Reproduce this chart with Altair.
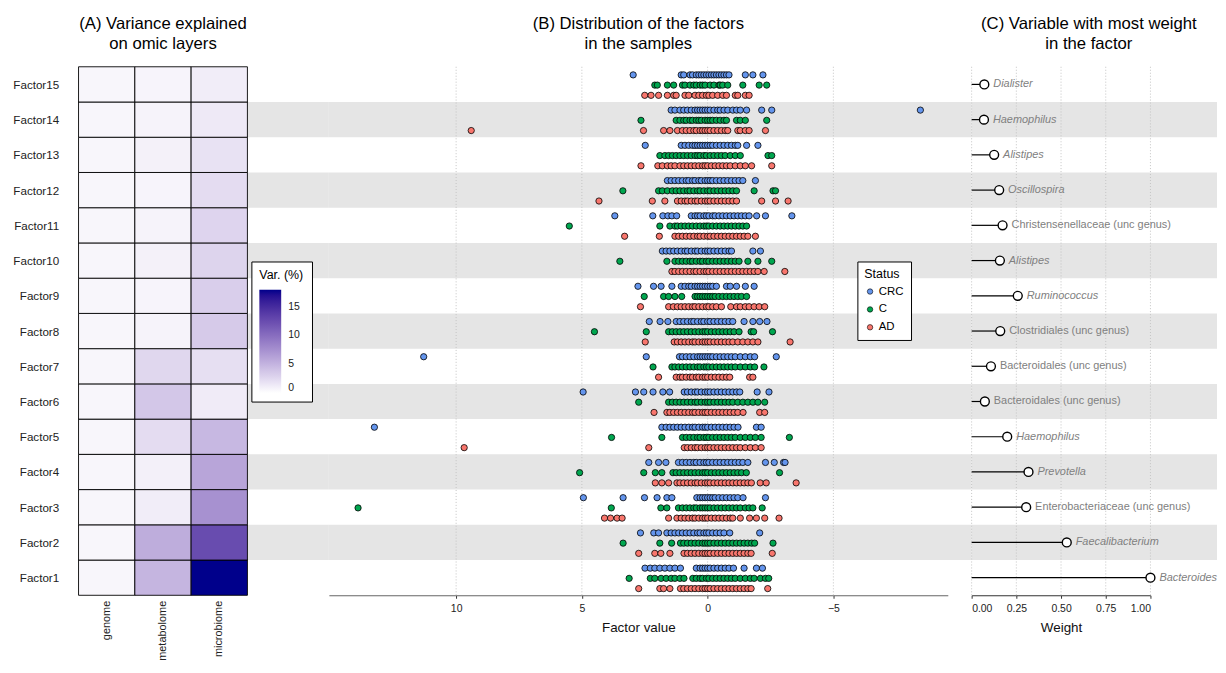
import json
import altair as alt
import pandas as pd

# ---------------- data ----------------
factor_names = ["Factor1", "Factor2", "Factor3", "Factor4", "Factor5", "Factor6", "Factor7",
                "Factor8", "Factor9", "Factor10", "Factor11", "Factor12", "Factor13",
                "Factor14", "Factor15"]
factor_order = factor_names[::-1]          # Factor15 at the top
layers = ["genome", "metabolome", "microbiome"]

var_genome = [0.6, 0.6, 0.6, 0.6, 0.6, 0.6, 0.6, 0.6, 0.6, 0.6, 0.6, 0.6, 0.6, 0.6, 0.6]
var_metabolome = [4.9, 5.5, 1.2, 1.0, 2.3, 3.7, 2.65, 0.8, 0.7, 0.9, 0.8, 0.7, 0.9, 0.8, 0.7]
var_microbiome = [17.9, 12.5, 7.4, 6.0, 4.7, 1.3, 2.1, 3.5, 3.2, 2.85, 2.8, 2.3, 1.9, 1.45, 1.2]

statuses = ["CRC", "C", "AD"]
status_colors = ["#6495ed", "#00a64f", "#f8766d"]

crc_values = [
    [2.49, 2.28, 2.1, 1.9, 1.7, 1.5, 1.3, 1.08, 0.45, 0.3, 0.2, 0.1, 0.0, -0.1, -0.25, -0.4, -0.55, -0.7, -0.85, -1.03, -1.45, -1.94, -2.18],
    [2.67, 2.14, 1.95, 1.62, 1.45, 1.3, 1.15, 1.0, 0.85, 0.7, 0.55, 0.4, 0.3, 0.15, 0.05, -0.05, -0.2, -0.35, -0.5, -0.65, -0.88, -2.07],
    [4.94, 3.36, 2.51, 2.01, 1.62, 1.42, 0.43, 0.3, 0.2, 0.1, 0.0, -0.1, -0.2, -0.3, -0.45, -0.6, -0.75, -0.9, -1.05, -1.2, -1.41, -2.3],
    [2.34, 1.95, 1.66, 1.16, 1.0, 0.85, 0.7, 0.55, 0.45, 0.3, 0.15, 0.05, -0.05, -0.2, -0.35, -0.5, -0.65, -0.8, -0.95, -1.1, -1.25, -1.4, -1.6, -2.3, -2.65, -3.02, -3.08],
    [13.25, 1.82, 1.65, 1.5, 1.35, 1.2, 1.05, 0.9, 0.75, 0.6, 0.5, 0.35, 0.2, 0.1, 0.0, -0.15, -0.3, -0.45, -0.6, -0.75, -0.9, -1.05, -1.21, -1.94, -2.13],
    [4.95, 2.87, 2.54, 2.17, 1.78, 1.51, 0.93, 0.8, 0.65, 0.5, 0.4, 0.25, 0.1, 0.0, -0.1, -0.25, -0.4, -0.55, -0.7, -0.85, -1.0, -1.15, -1.28, -1.97, -2.44],
    [11.29, 2.44, 1.12, 1.0, 0.85, 0.7, 0.55, 0.4, 0.3, 0.2, 0.1, 0.0, -0.1, -0.2, -0.35, -0.5, -0.65, -0.8, -0.95, -1.1, -1.3, -1.5, -1.7, -1.87, -2.73],
    [2.32, 1.89, 1.58, 1.25, 1.1, 0.95, 0.8, 0.65, 0.55, 0.4, 0.25, 0.15, 0.0, -0.1, -0.25, -0.4, -0.55, -0.7, -0.85, -1.0, -1.45, -1.8, -2.07, -2.36],
    [2.77, 2.15, 1.85, 1.42, 1.05, 0.9, 0.75, 0.65, 0.5, 0.4, 0.3, 0.2, 0.1, 0.0, -0.1, -0.2, -0.35, -0.75, -0.9, -1.15, -1.5, -1.85],
    [1.8, 1.65, 1.5, 1.35, 1.2, 1.05, 0.9, 0.8, 0.65, 0.5, 0.4, 0.25, 0.1, 0.0, -0.1, -0.25, -0.4, -0.55, -0.7, -0.85, -0.95, -1.8, -2.1],
    [3.69, 2.18, 1.78, 1.58, 1.42, 1.23, 0.65, 0.5, 0.4, 0.3, 0.15, 0.05, -0.05, -0.2, -0.3, -0.45, -0.6, -0.75, -0.9, -1.05, -1.2, -1.35, -1.5, -1.65, -1.95, -2.3, -3.35],
    [1.6, 1.45, 1.3, 1.15, 1.0, 0.85, 0.75, 0.6, 0.5, 0.35, 0.25, 0.1, 0.0, -0.1, -0.2, -0.35, -0.5, -0.65, -0.8, -0.95, -1.1, -1.25, -1.4, -1.9],
    [2.48, 1.05, 0.9, 0.75, 0.6, 0.5, 0.4, 0.3, 0.2, 0.1, 0.0, -0.1, -0.2, -0.35, -0.5, -0.65, -0.8, -0.95, -1.1, -1.2, -1.55, -2.0],
    [1.45, 1.3, 1.1, 0.95, 0.8, 0.65, 0.5, 0.4, 0.3, 0.2, 0.1, 0.0, -0.1, -0.25, -0.4, -0.5, -0.65, -0.8, -1.0, -1.15, -1.3, -1.55, -2.15, -2.55, -8.46],
    [2.96, 1.05, 0.95, 0.7, 0.6, 0.45, 0.35, 0.25, 0.15, 0.05, -0.05, -0.15, -0.25, -0.35, -0.45, -0.55, -0.65, -0.75, -0.85, -1.5, -1.8, -2.2],
]

c_values = [
    [3.12, 2.28, 2.1, 1.85, 1.65, 1.45, 1.3, 1.1, 0.94, 0.59, 0.45, 0.3, 0.2, 0.05, -0.05, -0.2, -0.35, -0.5, -0.65, -0.8, -0.95, -1.1, -1.3, -1.5, -1.7, -1.85, -2.1, -2.3, -2.43],
    [3.36, 1.9, 1.43, 1.08, 0.95, 0.8, 0.65, 0.5, 0.35, 0.2, 0.1, 0.0, -0.1, -0.25, -0.4, -0.55, -0.7, -0.85, -1.0, -1.15, -1.3, -1.45, -1.6, -1.75, -1.87, -2.6],
    [13.9, 3.83, 1.86, 1.62, 1.16, 1.0, 0.85, 0.7, 0.55, 0.45, 0.3, 0.2, 0.1, 0.0, -0.1, -0.25, -0.4, -0.55, -0.7, -0.85, -1.0, -1.15, -1.3, -1.5, -1.65, -1.8, -2.17],
    [5.09, 2.54, 2.08, 1.82, 1.38, 1.25, 1.1, 0.95, 0.8, 0.65, 0.5, 0.35, 0.2, 0.1, 0.0, -0.15, -0.3, -0.45, -0.6, -0.75, -0.9, -1.05, -1.2, -1.35, -1.54, -2.86],
    [3.82, 1.82, 1.0, 0.85, 0.7, 0.55, 0.4, 0.3, 0.15, 0.05, -0.05, -0.2, -0.35, -0.5, -0.65, -0.8, -0.95, -1.1, -1.3, -1.5, -1.7, -1.9, -2.13, -3.25],
    [2.74, 1.55, 1.4, 1.25, 1.1, 0.95, 0.8, 0.65, 0.5, 0.4, 0.25, 0.1, 0.0, -0.1, -0.25, -0.4, -0.55, -0.7, -0.85, -1.0, -1.2, -1.4, -1.6, -1.8, -2.0, -2.27],
    [2.17, 1.42, 1.3, 1.15, 1.0, 0.85, 0.7, 0.55, 0.4, 0.3, 0.15, 0.05, -0.05, -0.2, -0.35, -0.5, -0.65, -0.8, -0.95, -1.1, -1.3, -1.5, -1.7, -1.87, -2.24],
    [4.5, 2.44, 1.55, 1.4, 1.25, 1.1, 0.95, 0.8, 0.65, 0.5, 0.35, 0.2, 0.1, 0.0, -0.15, -0.3, -0.45, -0.6, -0.75, -0.9, -1.05, -1.25, -1.73, -1.83, -2.58],
    [2.52, 1.75, 1.55, 1.3, 1.03, 0.5, 0.4, 0.3, 0.2, 0.1, 0.0, -0.1, -0.2, -0.3, -0.45, -0.6, -0.75, -0.9, -1.05, -1.2, -1.35, -1.55],
    [3.49, 1.62, 1.3, 1.15, 1.0, 0.85, 0.7, 0.6, 0.45, 0.3, 0.2, 0.05, -0.05, -0.2, -0.35, -0.5, -0.65, -0.8, -0.95, -1.1, -1.25, -1.6, -2.0, -2.55],
    [5.5, 1.9, 1.5, 1.3, 1.2, 1.05, 0.9, 0.75, 0.6, 0.45, 0.3, 0.15, 0.05, -0.05, -0.2, -0.35, -0.5, -0.65, -0.8, -0.95, -1.1, -1.25, -1.4, -1.55],
    [3.37, 1.95, 1.8, 1.6, 1.4, 1.25, 1.1, 0.95, 0.8, 0.7, 0.55, 0.4, 0.3, 0.15, 0.0, -0.1, -0.25, -0.4, -0.55, -0.7, -0.85, -1.0, -1.15, -1.85, -2.6, -2.7],
    [1.9, 1.7, 1.55, 1.4, 1.25, 1.1, 0.95, 0.8, 0.65, 0.5, 0.4, 0.3, 0.15, 0.05, -0.1, -0.25, -0.4, -0.55, -0.7, -0.9, -1.1, -1.3, -2.4, -2.55],
    [2.65, 1.25, 1.1, 0.95, 0.85, 0.7, 0.6, 0.45, 0.35, 0.25, 0.1, 0.0, -0.1, -0.2, -0.35, -0.5, -0.65, -0.75, -1.15, -1.3, -1.5, -2.35],
    [2.1, 2.0, 1.6, 1.35, 1.0, 0.9, 0.7, 0.55, 0.45, 0.3, 0.2, 0.1, -0.1, -0.25, -0.45, -0.5, -0.6, -0.8, -1.4, -2.05, -2.35],
]

ad_values = [
    [2.74, 1.9, 1.75, 1.5, 1.08, 0.95, 0.8, 0.65, 0.5, 0.35, 0.2, 0.1, 0.0, -0.1, -0.25, -0.4, -0.55, -0.7, -0.85, -1.0, -1.15, -1.3, -1.45, -1.6, -1.73, -2.39],
    [2.74, 2.1, 1.86, 1.5, 0.94, 0.8, 0.65, 0.5, 0.35, 0.2, 0.1, 0.0, -0.1, -0.25, -0.4, -0.55, -0.7, -0.85, -1.0, -1.15, -1.3, -1.45, -1.6, -1.73, -2.57],
    [4.1, 3.86, 3.6, 3.4, 1.55, 1.22, 1.05, 0.9, 0.75, 0.6, 0.5, 0.35, 0.2, 0.1, 0.0, -0.15, -0.3, -0.45, -0.6, -0.75, -0.9, -1.0, -1.3, -1.67, -1.94, -2.27, -2.84],
    [2.08, 1.82, 1.55, 1.22, 1.1, 0.95, 0.8, 0.65, 0.5, 0.4, 0.25, 0.1, 0.0, -0.1, -0.25, -0.4, -0.55, -0.7, -0.85, -1.0, -1.15, -1.3, -1.45, -1.6, -1.74, -2.09, -2.33, -3.52],
    [9.68, 2.34, 0.93, 0.8, 0.65, 0.5, 0.4, 0.25, 0.1, 0.0, -0.1, -0.25, -0.4, -0.55, -0.7, -0.85, -1.0, -1.15, -1.3, -1.5, -1.7, -1.9, -2.13],
    [2.13, 1.62, 1.5, 1.35, 1.2, 1.05, 0.9, 0.75, 0.6, 0.5, 0.35, 0.2, 0.1, 0.0, -0.15, -0.3, -0.45, -0.6, -0.75, -0.9, -1.05, -1.2, -1.41, -2.07, -2.27],
    [1.95, 1.25, 1.1, 1.0, 0.85, 0.7, 0.6, 0.45, 0.35, 0.2, 0.1, 0.0, -0.15, -0.3, -0.45, -0.6, -0.75, -0.88, -1.67, -1.8],
    [2.48, 1.33, 1.2, 1.05, 0.9, 0.75, 0.6, 0.5, 0.35, 0.2, 0.1, 0.0, -0.1, -0.25, -0.4, -0.55, -0.7, -0.85, -1.0, -1.2, -1.4, -1.6, -1.8, -2.0, -3.28],
    [2.67, 1.55, 1.36, 1.2, 1.05, 0.9, 0.75, 0.6, 0.5, 0.35, 0.2, 0.05, -0.05, -0.2, -0.35, -0.55, -0.92, -1.15, -1.3, -1.5, -1.65, -1.85, -2.05, -2.27],
    [1.42, 1.3, 1.15, 1.0, 0.85, 0.7, 0.55, 0.45, 0.3, 0.15, 0.05, -0.05, -0.2, -0.35, -0.5, -0.65, -0.8, -0.95, -1.1, -1.25, -1.4, -1.55, -1.7, -1.85, -2.0, -2.25, -3.07],
    [3.3, 1.92, 1.3, 1.15, 1.0, 0.85, 0.7, 0.55, 0.4, 0.3, 0.15, 0.0, -0.1, -0.25, -0.4, -0.55, -0.7, -0.85, -1.0, -1.15, -1.3, -1.45, -1.6, -1.9],
    [4.32, 2.2, 1.7, 1.2, 1.05, 0.9, 0.8, 0.65, 0.5, 0.4, 0.25, 0.1, 0.0, -0.1, -0.25, -0.4, -0.55, -0.7, -0.85, -1.0, -1.15, -2.15, -2.7, -3.2],
    [2.65, 1.98, 1.8, 1.6, 1.45, 1.3, 1.1, 0.95, 0.8, 0.65, 0.5, 0.35, 0.2, 0.1, 0.0, -0.15, -0.3, -0.45, -0.6, -0.75, -0.9, -1.1, -1.3, -1.5, -1.75, -2.55],
    [9.4, 2.55, 1.75, 1.5, 1.2, 1.0, 0.85, 0.7, 0.55, 0.45, 0.3, 0.2, 0.1, 0.0, -0.1, -0.25, -0.4, -0.55, -0.7, -0.8, -1.2, -1.3, -1.5, -1.65, -2.3],
    [2.5, 2.25, 1.95, 1.6, 1.35, 1.25, 0.9, 0.75, 0.5, 0.35, 0.2, 0.05, -0.05, -0.2, -0.4, -0.6, -0.75, -1.1, -1.2, -1.5, -1.65],
]

top_variable = ["Bacteroides", "Faecalibacterium", "Enterobacteriaceae (unc genus)", "Prevotella",
                "Haemophilus", "Bacteroidales (unc genus)", "Bacteroidales (unc genus)",
                "Clostridiales (unc genus)", "Ruminococcus", "Alistipes",
                "Christensenellaceae (unc genus)", "Oscillospira", "Alistipes", "Haemophilus",
                "Dialister"]
top_weight = [1.0, 0.532, 0.305, 0.318, 0.199, 0.074, 0.108, 0.16, 0.258, 0.158, 0.173,
              0.154, 0.126, 0.069, 0.071]

factor_ticks = [10, 5, 0, -5]
weight_ticks = [0, 0.25, 0.5, 0.75, 1.0]

# ---------------- tables ----------------
row_of = {f: i for i, f in enumerate(factor_order)}   # rank from the top

heat_rows = []
for i, f in enumerate(factor_names):
    for lay, vals in zip(layers, [var_genome, var_metabolome, var_microbiome]):
        heat_rows.append({"factor": f, "row": row_of[f], "layer": lay, "var": vals[i]})
heat_df = pd.DataFrame(heat_rows)

pt_rows = []
for i, f in enumerate(factor_names):
    for st, vals in zip(statuses, [crc_values[i], c_values[i], ad_values[i]]):
        for v in vals:
            pt_rows.append({"factor": f, "row": row_of[f], "status": st, "value": v})
pts_df = pd.DataFrame(pt_rows)

band_df = pd.DataFrame({"factor": [f for i, f in enumerate(factor_names) if (i + 1) % 2 == 0]})
band_df["row"] = band_df["factor"].map(row_of)

weight_df = pd.DataFrame({
    "factor": factor_names,
    "variable": top_variable,
    "weight": top_weight,
    "italic": [not v.endswith("(unc genus)") for v in top_variable],
})
weight_df["row"] = weight_df["factor"].map(row_of)
tickB_df = pd.DataFrame({"v": factor_ticks})
tickC_df = pd.DataFrame({"v": weight_ticks})

# ---------------- styling ----------------
FONT = "Liberation Sans"
BAND = "#e5e5e5"
GRID = "#c4c4c4"
H = 532
A_W, A_HEAT = 252, 170
B_W, B_PLOT = 647, 623
C_W, C_PLOT = 247, 180
N = len(factor_order)

yscale = alt.Scale(domain=[0, N], reverse=True, nice=False, zero=False)
label_expr = json.dumps(factor_order) + "[floor(datum.value)]"
status_expr = "indexof(" + json.dumps(statuses) + ", datum.status)"


def ttl(lines, dx):
    return alt.TitleParams(text=lines, fontSize=16.8, fontWeight="normal", anchor="middle",
                           dx=dx, offset=14, lineHeight=20, color="black", font=FONT)


def bands(width_px, x0=0):
    return alt.Chart(band_df).transform_calculate(
        y0="datum.row", y1="datum.row + 1").mark_rect(color=BAND).encode(
        x=alt.value(x0), x2=alt.value(width_px),
        y=alt.Y("y0:Q", scale=yscale, axis=None), y2="y1:Q")


def xaxis(values, title, fmt=None, domain_color="#555555"):
    kw = dict(values=values, title=title, grid=False, domainColor=domain_color, domainWidth=1.1,
              tickColor="#333333", tickSize=3, labelFontSize=10.5, labelPadding=5,
              labelColor="#222222", titleFontSize=13.5, titleFontWeight="normal",
              titleColor="#111111", titlePadding=7, labelFont=FONT, titleFont=FONT)
    if fmt:
        kw["format"] = fmt
    return alt.Axis(**kw)


# ---------------- panel A ----------------
yaxisA = alt.Axis(title=None, values=[i + 0.5 for i in range(N)], labelExpr=label_expr,
                  ticks=False, domain=False, grid=False, labelPadding=20, labelFontSize=11.7,
                  labelColor="#222222", labelFont=FONT)
bandsA = alt.Chart(band_df).transform_calculate(
    y0="datum.row", y1="datum.row + 1").mark_rect(color=BAND).encode(
    x=alt.value(A_HEAT), x2=alt.value(A_W),
    y=alt.Y("y0:Q", scale=yscale, axis=yaxisA), y2="y1:Q")
heat = alt.Chart(heat_df).transform_calculate(
    y0="datum.row", y1="datum.row + 1").mark_rect(stroke="black", strokeWidth=0.9).encode(
    x=alt.X("layer:N", sort=layers,
            scale=alt.Scale(domain=layers, range=[0, A_HEAT], paddingInner=0, paddingOuter=0),
            axis=alt.Axis(title=None, labelAngle=270, ticks=False, domain=False, labelPadding=5,
                          labelFontSize=11, labelColor="#222222", labelFont=FONT)),
    y=alt.Y("y0:Q", scale=yscale, axis=yaxisA), y2="y1:Q",
    color=alt.Color("var:Q",
                    scale=alt.Scale(domain=[0, 17.9], range=["white", "darkblue"], interpolate="lab"),
                    legend=alt.Legend(title="Var. (%)", orient="none", legendX=174, legendY=196,
                                      direction="vertical", gradientLength=104, gradientThickness=22,
                                      values=[0, 5, 10, 15], strokeColor="black", fillColor="white",
                                      padding=8, titleFontSize=12.5, titleFontWeight="normal",
                                      titleColor="black", labelFontSize=10.5, labelColor="#222222",
                                      titlePadding=8, labelOffset=7, gradientStrokeWidth=0,
                                      cornerRadius=0, titleFont=FONT, labelFont=FONT)),
)
panelA = alt.layer(bandsA, heat).properties(
    width=A_W, height=H, title=ttl(["(A) Variance explained", "on omic layers"], -(A_W - A_HEAT) / 2))

# ---------------- panel B ----------------
xBscale = alt.Scale(domain=[-9.55, 15.06], range=[B_PLOT, 0], nice=False, zero=False)
axisB = xaxis(factor_ticks, "Factor value", domain_color="#666666")
gridB = alt.Chart(tickB_df).mark_rule(color=GRID, strokeDash=[1, 2], strokeWidth=1).encode(
    x=alt.X("v:Q", scale=xBscale, axis=axisB))
pts = alt.Chart(pts_df).transform_calculate(
    yp="datum.row + 0.52 + (" + status_expr + " - 1) * 0.29").mark_circle(
    size=40, stroke="black", strokeWidth=0.8, opacity=1).encode(
    x=alt.X("value:Q", scale=xBscale, axis=axisB),
    y=alt.Y("yp:Q", scale=yscale, axis=None),
    color=alt.Color("status:N", sort=statuses,
                    scale=alt.Scale(domain=statuses, range=status_colors),
                    legend=alt.Legend(title="Status", orient="none", legendX=532, legendY=196,
                                      direction="vertical", strokeColor="black", fillColor="white",
                                      padding=7, titleFontSize=12.5, titleFontWeight="normal",
                                      titleColor="black", labelFontSize=11.5, labelColor="black",
                                      symbolSize=30, symbolType="circle", symbolStrokeColor="black",
                                      symbolStrokeWidth=0.6, titlePadding=5, labelOffset=3,
                                      rowPadding=5, cornerRadius=0, titleFont=FONT, labelFont=FONT)),
)
panelB = alt.layer(bands(B_W), gridB, pts).properties(
    width=B_W, height=H, title=ttl(["(B) Distribution of the factors", "in the samples"], -(B_W - B_PLOT) / 2))

# ---------------- panel C ----------------
xCscale = alt.Scale(domain=[0, 1], range=[0, C_PLOT], nice=False, zero=True)
axisC = xaxis(weight_ticks, "Weight", fmt=".2f", domain_color="#333333")
yC = alt.Y("yc:Q", scale=yscale, axis=None)
wbase = alt.Chart(weight_df).transform_calculate(yc="datum.row + 0.5", base="0")
gridC = alt.Chart(tickC_df).mark_rule(color=GRID, strokeDash=[1, 2], strokeWidth=1).encode(
    x=alt.X("v:Q", scale=xCscale, axis=axisC))
stems = wbase.mark_rule(color="black", strokeWidth=1.2).encode(
    x=alt.X("base:Q", scale=xCscale, axis=axisC), x2="weight:Q", y=yC)
dots = wbase.mark_circle(size=80, fill="white", stroke="black", strokeWidth=1.4,
                         opacity=1).encode(x=alt.X("weight:Q", scale=xCscale, axis=axisC), y=yC)
txt_it = wbase.transform_filter("datum.italic").mark_text(
    align="left", baseline="middle", dx=9, fontSize=11, color="#808080", fontStyle="italic",
    font=FONT).encode(x=alt.X("weight:Q", scale=xCscale, axis=axisC), y=yC, text="variable:N")
txt_rg = wbase.transform_filter("!datum.italic").mark_text(
    align="left", baseline="middle", dx=9, fontSize=11, color="#808080", font=FONT).encode(
    x=alt.X("weight:Q", scale=xCscale, axis=axisC), y=yC, text="variable:N")
panelC = alt.layer(bands(C_W), gridC, stems, dots, txt_it, txt_rg).properties(
    width=C_W, height=H, title=ttl(["(C) Variable with most weight", "in the factor"], -5.5))

chart = alt.hconcat(panelA, panelB, panelC, spacing=0, bounds="flush").resolve_scale(
    color="independent", x="independent", y="independent").resolve_legend(
    color="independent").configure(font=FONT).configure_view(stroke=None).properties(
    padding={"left": 4, "top": 5, "right": 0, "bottom": 0})

chart.save("out.html", embed_options={"renderer": "svg", "actions": False})
